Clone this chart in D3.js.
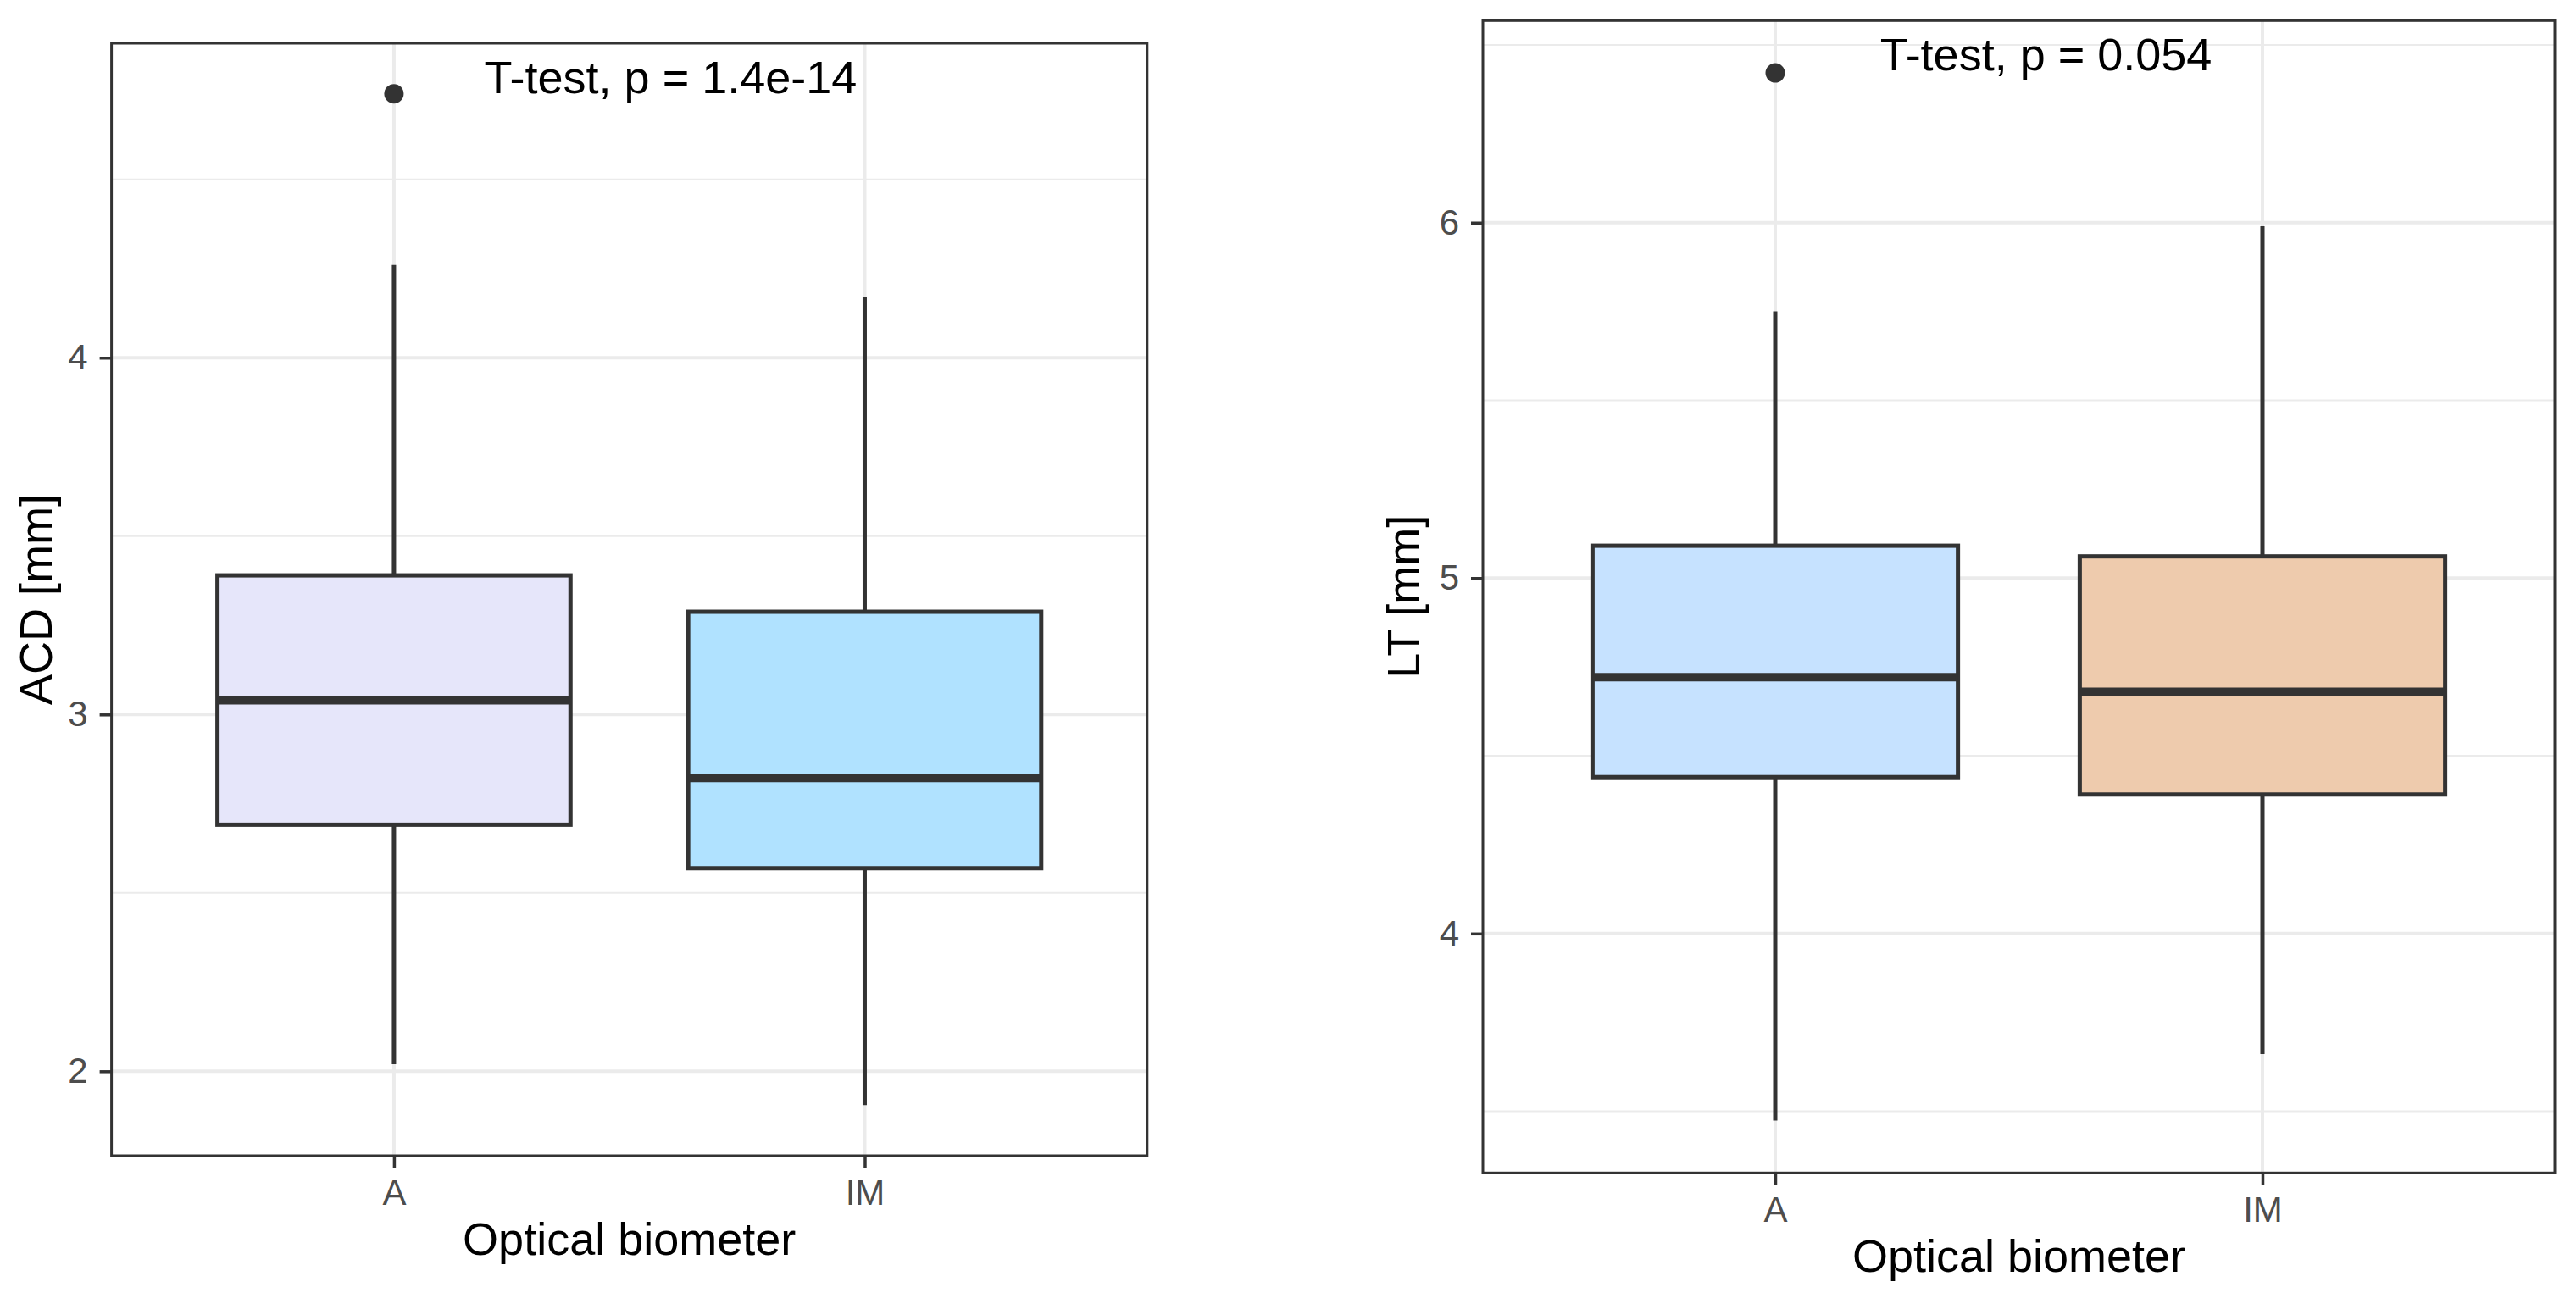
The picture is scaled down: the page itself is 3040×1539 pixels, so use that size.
<!DOCTYPE html>
<html>
<head>
<meta charset="utf-8">
<script src="https://cdn.jsdelivr.net/npm/d3@7"></script>
<style>
  body { margin: 0; background: #ffffff; }
  text { font-family: "Liberation Sans", Arial, sans-serif; }
</style>
</head>
<body>
<div class="chart"></div>
<script>
// Two ggplot style boxplots: ACD and LT by optical biometer

// Categories
var groups = ["A", "IM"];

// ACD box stats
var acdLow = [2.02, 1.905];
var acdQ1 = [2.691, 2.569];
var acdMed = [3.04, 2.822];
var acdQ3 = [3.39, 3.288];
var acdHigh = [4.26, 4.17];
var acdOutliers = [[4.74], []];
var acdTicks = [2, 3, 4];
var acdMinor = [2.5, 3.5, 4.5];
var acdColors = ["#E6E6FA", "#B0E2FF"];

// LT box stats
var ltLow = [3.474, 3.661];
var ltQ1 = [4.44, 4.391];
var ltMed = [4.721, 4.68];
var ltQ3 = [5.091, 5.061];
var ltHigh = [5.75, 5.99];
var ltOutliers = [[6.421], []];
var ltTicks = [4, 5, 6];
var ltMinor = [3.5, 4.5, 5.5, 6.5];
var ltColors = ["#C6E2FF", "#EECBAD"];

var svg = d3.select(".chart").append("svg")
          .attr("width", 3040)
          .attr("height", 1539);

function drawPanel(p) {
  var x = d3.scalePoint()
      .domain(groups)
      .range([p.x0, p.x1])
      .padding(0.6);
  var step = x.step();
  var boxW = step * 0.75;

  // y limits from the data, 5% expansion like ggplot
  var allOut = [].concat.apply([], p.outliers);
  var lo = d3.min(p.low.concat(allOut));
  var hi = d3.max(p.high.concat(allOut));
  var pad = (hi - lo) * 0.05;
  var y = d3.scaleLinear()
      .domain([lo - pad, hi + pad])
      .range([p.y1, p.y0]);

  var g = svg.append("g");

  // minor grid
  g.selectAll(".minor")
    .data(p.minor)
    .enter().append("line")
      .attr("x1", p.x0).attr("x2", p.x1)
      .attr("y1", function(d) { return y(d); })
      .attr("y2", function(d) { return y(d); })
      .style("stroke", "#EBEBEB")
      .style("stroke-width", 2);

  // major grid
  g.selectAll(".major")
    .data(p.ticks)
    .enter().append("line")
      .attr("x1", p.x0).attr("x2", p.x1)
      .attr("y1", function(d) { return y(d); })
      .attr("y2", function(d) { return y(d); })
      .style("stroke", "#EBEBEB")
      .style("stroke-width", 4);

  g.selectAll(".vgrid")
    .data(groups)
    .enter().append("line")
      .attr("x1", function(d) { return x(d); })
      .attr("x2", function(d) { return x(d); })
      .attr("y1", p.y0).attr("y2", p.y1)
      .style("stroke", "#EBEBEB")
      .style("stroke-width", 4);

  // whiskers
  g.selectAll(".whiskUp")
    .data(groups)
    .enter().append("line")
      .attr("x1", function(d) { return x(d); })
      .attr("x2", function(d) { return x(d); })
      .attr("y1", function(d, i) { return y(p.q3[i]); })
      .attr("y2", function(d, i) { return y(p.high[i]); })
      .style("stroke", "#333333")
      .style("stroke-width", 5);

  g.selectAll(".whiskDown")
    .data(groups)
    .enter().append("line")
      .attr("x1", function(d) { return x(d); })
      .attr("x2", function(d) { return x(d); })
      .attr("y1", function(d, i) { return y(p.q1[i]); })
      .attr("y2", function(d, i) { return y(p.low[i]); })
      .style("stroke", "#333333")
      .style("stroke-width", 5);

  // boxes
  g.selectAll(".box")
    .data(groups)
    .enter().append("rect")
      .attr("x", function(d) { return x(d) - boxW / 2; })
      .attr("width", boxW)
      .attr("y", function(d, i) { return y(p.q3[i]); })
      .attr("height", function(d, i) { return y(p.q1[i]) - y(p.q3[i]); })
      .style("fill", function(d, i) { return p.colors[i]; })
      .style("stroke", "#333333")
      .style("stroke-width", 5);

  // medians
  g.selectAll(".median")
    .data(groups)
    .enter().append("line")
      .attr("x1", function(d) { return x(d) - boxW / 2; })
      .attr("x2", function(d) { return x(d) + boxW / 2; })
      .attr("y1", function(d, i) { return y(p.med[i]); })
      .attr("y2", function(d, i) { return y(p.med[i]); })
      .style("stroke", "#333333")
      .style("stroke-width", 10);

  // outliers
  var pts = [];
  groups.forEach(function(gr, i) {
    p.outliers[i].forEach(function(v) { pts.push({g: gr, v: v}); });
  });
  g.selectAll(".outlier")
    .data(pts)
    .enter().append("circle")
      .attr("cx", function(d) { return x(d.g); })
      .attr("cy", function(d) { return y(d.v); })
      .attr("r", 11.5)
      .style("fill", "#333333");

  // t-test label
  g.append("text")
    .text(p.label)
    .attr("x", x(groups[0]) + p.labelOffset * step)
    .attr("y", p.y0 + 59)
    .style("font-size", "54px")
    .style("fill", "#000000");

  // panel border
  g.append("rect")
    .attr("x", p.x0).attr("y", p.y0)
    .attr("width", p.x1 - p.x0)
    .attr("height", p.y1 - p.y0)
    .style("fill", "none")
    .style("stroke", "#333333")
    .style("stroke-width", 3);

  // axes
  var yAxis = g.append("g")
    .attr("transform", "translate(" + p.x0 + ",0)")
    .call(d3.axisLeft(y).tickValues(p.ticks).tickSize(14).tickPadding(14)
          .tickFormat(d3.format("d")));
  var xAxis = g.append("g")
    .attr("transform", "translate(0," + p.y1 + ")")
    .call(d3.axisBottom(x).tickSize(14).tickPadding(14));

  [yAxis, xAxis].forEach(function(a) {
    a.select(".domain").remove();
    a.selectAll(".tick line").style("stroke", "#333333").style("stroke-width", 3.5);
    a.selectAll(".tick text")
      .style("font-family", "'Liberation Sans', Arial, sans-serif")
      .style("font-size", "42px")
      .style("fill", "#4D4D4D");
  });

  // axis titles
  g.append("text")
    .text("Optical biometer")
    .attr("x", (p.x0 + p.x1) / 2)
    .attr("y", p.y1 + 117)
    .attr("text-anchor", "middle")
    .style("font-size", "54px")
    .style("fill", "#000000");

  g.append("text")
    .text(p.yTitle)
    .attr("transform", "translate(" + p.yTitleX + "," + (p.y0 + p.y1) / 2 + ") rotate(-90)")
    .attr("text-anchor", "middle")
    .style("font-size", "54px")
    .style("fill", "#000000");
}

drawPanel({
  x0: 131.6, x1: 1353.8, y0: 51, y1: 1364,
  low: acdLow, q1: acdQ1, med: acdMed, q3: acdQ3, high: acdHigh,
  outliers: acdOutliers, ticks: acdTicks, minor: acdMinor, colors: acdColors,
  label: "T-test, p = 1.4e-14", labelOffset: 0.192,
  yTitle: "ACD [mm]", yTitleX: 61
});

drawPanel({
  x0: 1750, x1: 3015, y0: 24.3, y1: 1384.3,
  low: ltLow, q1: ltQ1, med: ltMed, q3: ltQ3, high: ltHigh,
  outliers: ltOutliers, ticks: ltTicks, minor: ltMinor, colors: ltColors,
  label: "T-test, p = 0.054", labelOffset: 0.215,
  yTitle: "LT [mm]", yTitleX: 1675
});
</script>
</body>
</html>
